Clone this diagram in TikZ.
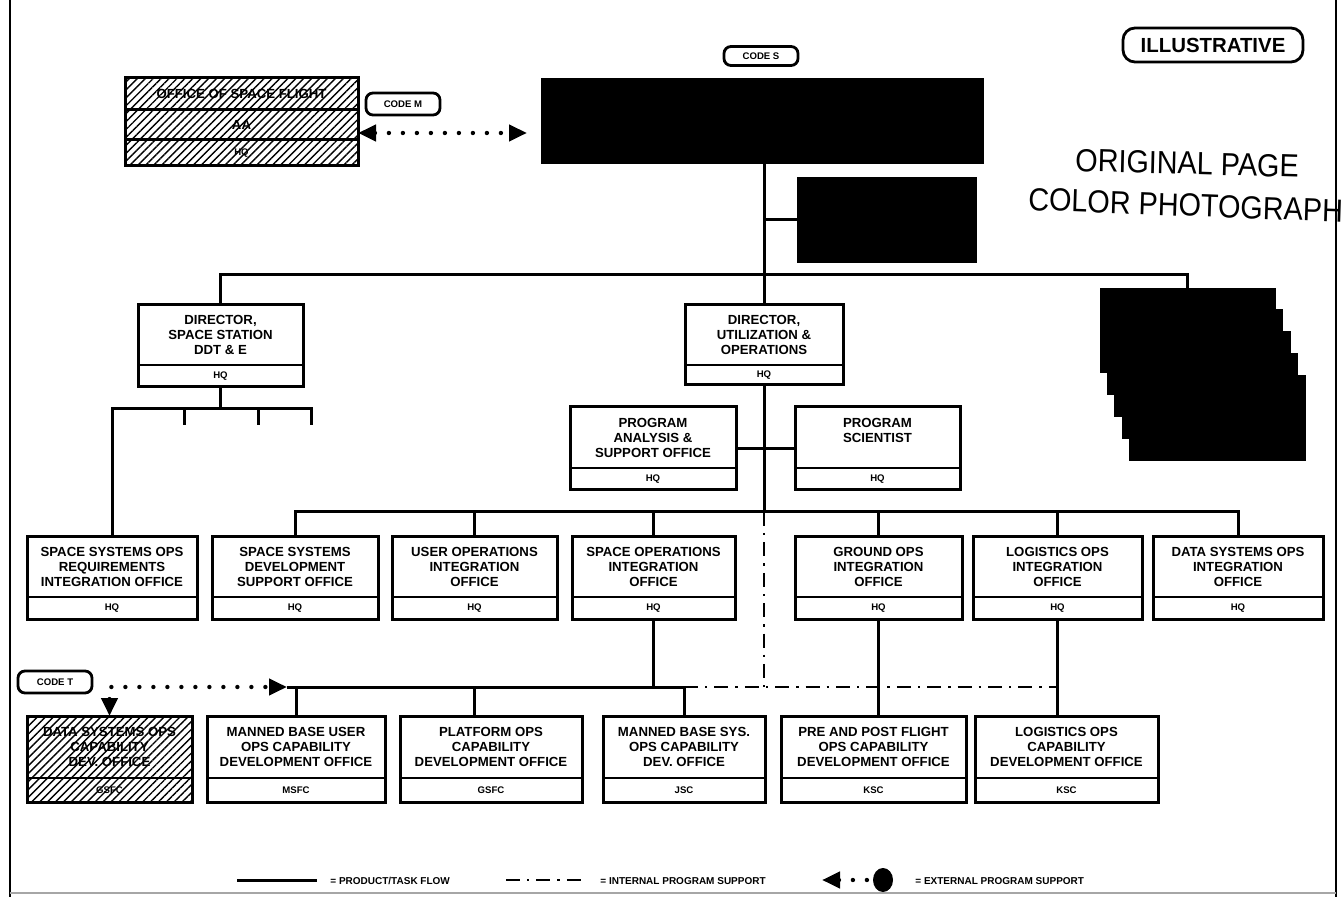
\documentclass[tikz,border=0pt]{standalone}
\usepackage{fontspec}
\setmainfont{Liberation Sans}
\newfontfamily\stampfont{Liberation Sans}
\usetikzlibrary{arrows.meta,patterns.meta,fit,shapes.geometric}

\tikzset{
  >={Triangle[length=9pt,width=8pt]},
  frame/.style={draw, line width=1.5pt, inner sep=0pt, outer sep=0pt},
  blackbox/.style={fill=black, draw=black, inner sep=0pt, outer sep=0pt},
  hatch/.style={pattern={Lines[angle=45,distance=2.8pt,line width=0.7pt]}},
  title/.style={font=\bfseries\fontsize{6.6}{7.5}\selectfont, align=center, inner sep=0pt},
  tag/.style={font=\bfseries\fontsize{4.8}{6}\selectfont, inner sep=0pt},
  codetag/.style={draw, line width=1.4pt, rounded corners=3.5pt, minimum width=37pt,
    minimum height=11pt, inner sep=0pt, font=\bfseries\fontsize{4.8}{6}\selectfont},
  flow/.style={line width=1.5pt},
  intsup/.style={line width=1.4pt, dash pattern=on 7pt off 3.5pt on 1.2pt off 3.5pt},
  extsup/.style={line width=2.2pt, line cap=round, dash pattern=on 0pt off 7pt},
  legendtext/.style={font=\bfseries\fontsize{5}{6}\selectfont, anchor=west, inner sep=0pt},
  stamp/.style={font=\stampfont\fontsize{16}{18}\selectfont, xscale=0.9, inner sep=0pt, anchor=west},
}

% box with a title part and a location strip below it
% [style] name x1 y1 x2 y2 ydivider title location
\newcommand{\orgbox}[9][]{%
  \node[frame,#1,fit={(#3,#4) (#5,#6)}] (#2) {};
  \draw[line width=1.3pt] (#3,#7) -- (#5,#7);
  \node[title] (#2-t) at ({(#3+#5)/2},{(#4+#7)/2}) {#8};
  \node[tag] (#2-l) at ({(#3+#5)/2},{(#7+#6)/2}) {#9};
}

\begin{document}
\begin{tikzpicture}[x=0.5pt,y=-0.5pt]
\useasboundingbox (0,0) rectangle (1344,897);

% page frame
\draw[line width=1pt] (10,0) -- (10,897);
\draw[line width=1pt] (1336,0) -- (1336,897);
\draw[line width=0.8pt, black!35] (10,893) -- (1336,893);

% stamp and marker
\node[draw, line width=1.4pt, rounded corners=6pt, minimum width=90pt, minimum height=17pt,
      inner sep=0pt, font=\bfseries\fontsize{10.2}{12}\selectfont] (illu) at (1213,45) {ILLUSTRATIVE};
\node[stamp, rotate=-1.5] (stamp1) at (1075,160) {ORIGINAL PAGE};
\node[stamp, rotate=-2] (stamp2) at (1028,199) {COLOR PHOTOGRAPH};

% top level
\node[frame,hatch,fit={(125,78) (358,110)}] (osf1) {};
\node[frame,hatch,fit={(125,110) (358,140)}] (osf2) {};
\node[frame,hatch,fit={(125,140) (358,166)}] (osf3) {};
\node[title] (osf1-t) at (osf1) {OFFICE OF SPACE FLIGHT};
\node[title] (osf2-t) at (osf2) {AA};
\node[tag] (osf3-t) at (osf3) {HQ};
\node[codetag] (codeM) at (403,104) {CODE M};

\node[codetag, minimum height=9.5pt] (codeS) at (761,56) {CODE S};
\node[blackbox, fit={(541,78) (983,163)}] (S) {};
\node[blackbox, fit={(797,177) (976,262)}] (S2) {};

\path ([yshift=-4pt]osf2.east) coordinate (am);
\draw[extsup, <->, shorten >=7pt] (am) -- (am -| S.west);

% stacked offices at the right
\foreach \i in {4,3,2,1} {
  \node[blackbox, fit={({1100+7.3*\i},{288+21.8*\i}) ({1275+7.5*\i},{372+22*\i})}] (stk\i) {};
}
\node[blackbox, fit={(1100,288) (1275,372)}] (stk0) {};

% second level
\orgbox{dss}{138}{305}{303}{387}{365}{DIRECTOR,\\SPACE STATION\\DDT \& E}{HQ}
\orgbox{uo}{685}{305}{843}{385}{365}{DIRECTOR,\\UTILIZATION \&\\OPERATIONS}{HQ}
\orgbox{pa}{570}{407}{736}{490}{468}{PROGRAM\\ANALYSIS \&\\SUPPORT OFFICE}{HQ}
\orgbox{ps}{795}{407}{960}{490}{468}{PROGRAM\\SCIENTIST\\\mbox{}}{HQ}

% integration offices
\orgbox{ssr}{27}{537}{197}{620}{597}{SPACE SYSTEMS OPS\\REQUIREMENTS\\INTEGRATION OFFICE}{HQ}
\orgbox{ssd}{212}{537}{378}{620}{597}{SPACE SYSTEMS\\DEVELOPMENT\\SUPPORT OFFICE}{HQ}
\orgbox{uoi}{392}{537}{557}{620}{597}{USER OPERATIONS\\INTEGRATION\\OFFICE}{HQ}
\orgbox{spo}{572}{537}{735}{620}{597}{SPACE OPERATIONS\\INTEGRATION\\OFFICE}{HQ}
\orgbox{gro}{795}{537}{962}{620}{597}{GROUND OPS\\INTEGRATION\\OFFICE}{HQ}
\orgbox{lio}{973}{537}{1142}{620}{597}{LOGISTICS OPS\\INTEGRATION\\OFFICE}{HQ}
\orgbox{dso}{1153}{537}{1323}{620}{597}{DATA SYSTEMS OPS\\INTEGRATION\\OFFICE}{HQ}

% capability development offices
\orgbox[hatch]{dsc}{27}{716}{192}{802}{778}{DATA SYSTEMS OPS\\CAPABILITY\\DEV. OFFICE}{GSFC}
\orgbox{mbu}{207}{716}{385}{802}{778}{MANNED BASE USER\\OPS CAPABILITY\\DEVELOPMENT OFFICE}{MSFC}
\orgbox{pfo}{400}{716}{582}{802}{778}{PLATFORM OPS\\CAPABILITY\\DEVELOPMENT OFFICE}{GSFC}
\orgbox{mbs}{603}{716}{765}{802}{778}{MANNED BASE SYS.\\OPS CAPABILITY\\DEV. OFFICE}{JSC}
\orgbox{ppf}{781}{716}{966}{802}{778}{PRE AND POST FLIGHT\\OPS CAPABILITY\\DEVELOPMENT OFFICE}{KSC}
\orgbox{lcd}{975}{716}{1158}{802}{778}{LOGISTICS OPS\\CAPABILITY\\DEVELOPMENT OFFICE}{KSC}
\node[codetag] (codeT) at (55,682) {CODE T};

% product / task flow
\draw[flow] (uo.north |- S.south) -- (uo.north);
\draw[flow] (uo.north |- S2.west) -- (S2.west);
\draw[flow] (dss.north) -- ++(0,-30) -| (stk0.north);

\path (dss.south) ++(0,22) coordinate (t1);
\coordinate (tk1) at (184,425);
\coordinate (tk2) at (258,425);
\coordinate (tk3) at (311,425);
\draw[flow] (dss.south) -- (t1);
\draw[flow] (ssr.north) |- (t1) -| (tk3);
\draw[flow] (tk1) -- (tk1 |- t1);
\draw[flow] (tk2) -- (tk2 |- t1);

\draw[flow] (pa.east) -- (ps.west);
\draw[flow] (ssd.north) -- ++(0,-25) coordinate (bus) -| (dso.north);
\draw[flow] (uo.south) -- (uo.south |- bus);
\foreach \n in {uoi,spo,gro,lio} { \draw[flow] (\n.north) -- (\n.north |- bus); }

\coordinate (ct) at (287,687);
\draw[flow] (ct) -- (mbs.north |- ct) -- (mbs.north);
\draw[flow] (mbu.north) -- (mbu.north |- ct);
\draw[flow] (uoi.south |- ct) -- (uoi.south |- pfo.north);
\draw[flow] (spo.south) -- (spo.south |- ct);
\draw[flow] (gro.south) -- (gro.south |- ppf.north);
\draw[flow] (lio.south) -- (lio.south |- lcd.north);

% internal program support
\draw[intsup] (uo.south |- bus) -- (uo.south |- ct);
\draw[intsup] (mbs.north |- ct) -- (lio.south |- ct);

% external program support
\draw[extsup, <->] (dsc.north) |- (ct);

% legend
\coordinate (la1) at (237,880);
\coordinate (lb1) at (317,880);
\draw[flow] (la1) -- (lb1);
\node[legendtext] (lt1) at (330,881) {= PRODUCT/TASK FLOW};
\coordinate (la2) at (506,880);
\coordinate (lb2) at (585,880);
\draw[intsup] (la2) -- (lb2);
\node[legendtext] (lt2) at (600,881) {= INTERNAL PROGRAM SUPPORT};
\coordinate (la3) at (822,880);
\node[fill=black, ellipse, minimum width=10pt, minimum height=12pt, inner sep=0pt] (ld3) at (883,880) {};
\draw[extsup, <-] (la3) -- (ld3);
\node[legendtext] (lt3) at (915,881) {= EXTERNAL PROGRAM SUPPORT};
\end{tikzpicture}
\end{document}
